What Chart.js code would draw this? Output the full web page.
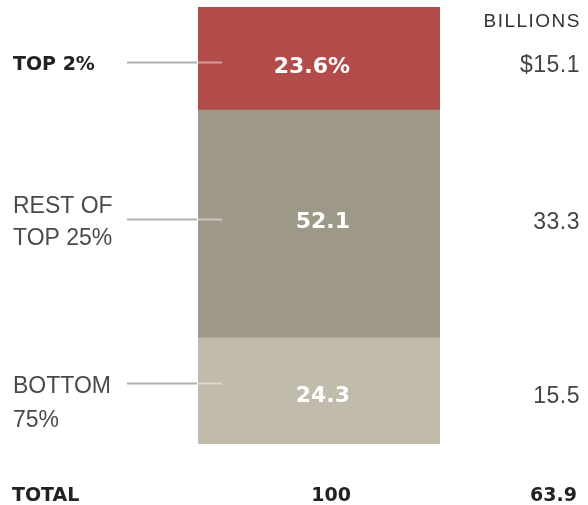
<!DOCTYPE html>
<html>
<head>
<meta charset="utf-8">
<script src="https://cdn.jsdelivr.net/npm/chart.js@4"></script>
<style>
  html, body { margin: 0; padding: 0; background: #ffffff; }
  #wrap { width: 588px; height: 505px; }
</style>
</head>
<body>
<div id="wrap"><canvas id="c" width="588" height="505"></canvas></div>
<script>
// ---- data ----
const groups = ['TOP 2%', 'REST OF TOP 25%', 'BOTTOM 75%'];
const groupLabelLines = [['TOP 2%'], ['REST OF', 'TOP 25%'], ['BOTTOM', '75%']];
const sharePct = [23.6, 52.1, 24.3];
const shareLabels = ['23.6%', '52.1', '24.3'];
const billions = [15.1, 33.3, 15.5];
const billionsLabels = ['$15.1', '33.3', '15.5'];
const totalShare = 100;
const totalBillions = 63.9;
const unitLabel = 'BILLIONS';
const totalLabel = 'TOTAL';

// ---- styles ----
const colors = ['#b24c4a', '#9e9888', '#c1bbab'];
const boldGroup = [true, false, false];

// Per-row offsets (px) relative to the segment's vertical centre
const rowLayout = [
  { leader: 3.5, lines: [11.5], share: 14.5, bil: 13.5 },
  { leader: -5, lines: [-11, 21], share: 4, bil: 5 },
  { leader: -8, lines: [2, 36], share: 11, bil: 12 }
];

// Datasets stacked bottom-up (reverse order of groups)
const datasets = groups.map((g, i) => ({
  label: g,
  data: [sharePct[i]],
  backgroundColor: colors[i],
  borderWidth: 0,
  barPercentage: 1,
  categoryPercentage: 1
})).reverse();

const annot = {
  id: 'annot',
  afterDatasetsDraw(chart) {
    const ctx = chart.ctx;
    const area = chart.chartArea;
    const n = groups.length;
    ctx.save();
    for (let i = 0; i < n; i++) {
      const dsIndex = n - 1 - i;
      const el = chart.getDatasetMeta(dsIndex).data[0];
      const top = Math.min(el.y, el.base), bot = Math.max(el.y, el.base);
      const c = (top + bot) / 2;
      const L = rowLayout[i];
      const ly = Math.round(c + L.leader) + 0.5;
      // leader line outside bar
      ctx.lineWidth = 2;
      ctx.strokeStyle = '#b0b0ac';
      ctx.beginPath();
      ctx.moveTo(127, ly); ctx.lineTo(area.left - 1, ly); ctx.stroke();
      // leader line inside bar
      ctx.strokeStyle = 'rgba(255,255,255,0.45)';
      ctx.beginPath();
      ctx.moveTo(area.left - 1, ly); ctx.lineTo(area.left + 24, ly); ctx.stroke();

      // group label
      ctx.textAlign = 'left';
      ctx.textBaseline = 'alphabetic';
      if (boldGroup[i]) {
        ctx.font = 'bold 19px "DejaVu Sans", Verdana, sans-serif';
        ctx.fillStyle = '#222222';
      } else {
        ctx.font = '23px "Liberation Sans", Arial, sans-serif';
        ctx.fillStyle = '#4a4a4a';
      }
      groupLabelLines[i].forEach((t, k) => ctx.fillText(t, 13, c + L.lines[k]));

      // share label inside bar
      ctx.textAlign = 'right';
      ctx.font = 'bold 22px "DejaVu Sans", Verdana, sans-serif';
      ctx.fillStyle = '#ffffff';
      ctx.fillText(shareLabels[i], 350, c + L.share);

      // billions label
      ctx.font = '23px "Liberation Sans", Arial, sans-serif';
      ctx.fillStyle = '#444444';
      ctx.letterSpacing = '0.5px';
      ctx.fillText(billionsLabels[i], 580, c + L.bil);
      ctx.letterSpacing = '0px';
    }
    // header
    ctx.textAlign = 'right';
    ctx.font = '19px "Liberation Sans", Arial, sans-serif';
    ctx.fillStyle = '#333333';
    ctx.letterSpacing = '1.5px';
    ctx.fillText(unitLabel, 581, area.top + 20);
    ctx.letterSpacing = '0px';

    // totals
    const ty = area.bottom + 57;
    ctx.font = 'bold 19px "DejaVu Sans", Verdana, sans-serif';
    ctx.fillStyle = '#222222';
    ctx.textAlign = 'left';
    ctx.fillText(totalLabel, 12, ty);
    ctx.textAlign = 'right';
    ctx.fillText(String(totalShare), 351, ty);
    ctx.fillText(totalBillions.toFixed(1), 577, ty);
    ctx.restore();
  }
};

new Chart(document.getElementById('c'), {
  type: 'bar',
  data: { labels: [''], datasets },
  options: {
    responsive: false,
    animation: false,
    layout: { padding: { left: 198, right: 148, top: 7, bottom: 61 } },
    plugins: { legend: { display: false }, tooltip: { enabled: false } },
    scales: {
      x: { stacked: true, display: false, grid: { display: false } },
      y: { stacked: true, display: false, min: 0, max: totalShare, grid: { display: false } }
    }
  },
  plugins: [annot]
});
</script>
</body>
</html>
